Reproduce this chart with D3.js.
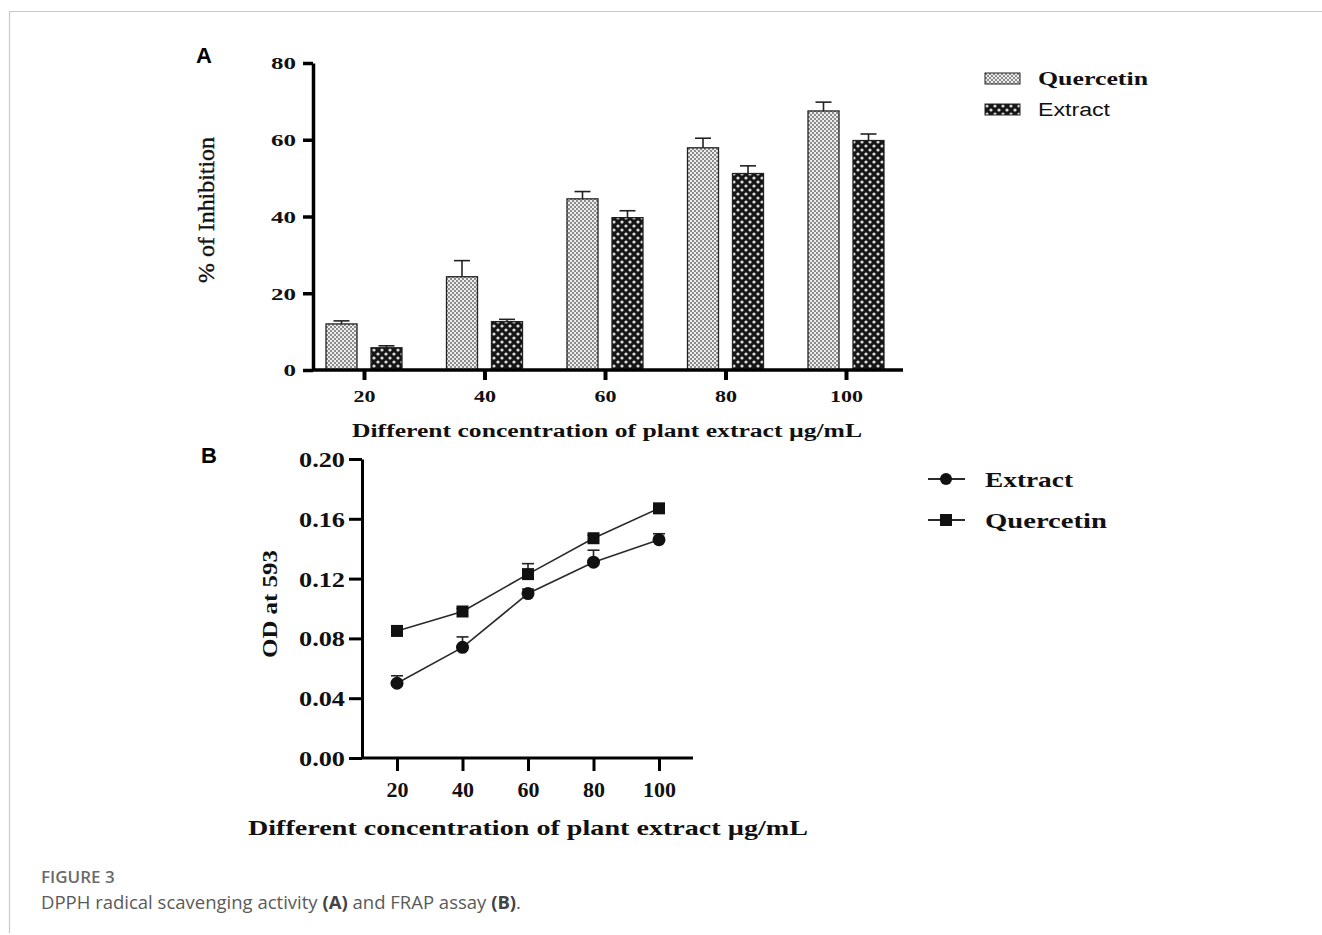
<!DOCTYPE html>
<html>
<head>
<meta charset="utf-8">
<script src="https://cdn.jsdelivr.net/npm/d3@7"></script>
<style>
  body { margin: 0; background: #fff; }
  svg { display: block; }
</style>
</head>
<body>
<script>
// values
const concentrations = [20, 40, 60, 80, 100];
const groups = ["Quercetin", "Extract"];

const dpphQuercetin = [12.0, 24.3, 44.6, 57.9, 67.5];
const dpphQuercetinErr = [0.8, 4.2, 1.9, 2.5, 2.3];
const dpphExtract = [5.8, 12.6, 39.7, 51.2, 59.8];
const dpphExtractErr = [0.5, 0.6, 1.8, 2.0, 1.7];

const frapExtract = [0.050, 0.074, 0.110, 0.131, 0.146];
const frapExtractErr = [0.005, 0.007, 0.003, 0.008, 0.004];
const frapQuercetin = [0.085, 0.098, 0.123, 0.147, 0.167];
const frapQuercetinErr = [0.002, 0.002, 0.007, 0.002, 0.002];

const yTicksA = [0, 20, 40, 60, 80];
const yTicksB = [0, 0.04, 0.08, 0.12, 0.16, 0.20];

const serif = "'Liberation Serif', 'Times New Roman', serif";
const sans = "'Liberation Sans', Arial, sans-serif";

const svg = d3.select("body").append("svg")
  .attr("width", 1322)
  .attr("height", 935);

// stretch text to a given width, the original is a scaled bitmap
function stretch(sel, w) {
  sel.attr("textLength", w).attr("lengthAdjust", "spacingAndGlyphs");
}

// patterns
const defs = svg.append("defs");
const pq = defs.append("pattern").attr("id", "pQ")
  .attr("patternUnits", "userSpaceOnUse").attr("width", 4).attr("height", 4);
pq.append("rect").attr("width", 4).attr("height", 4).attr("fill", "#eeeeee");
pq.append("rect").attr("width", 2).attr("height", 2).attr("fill", "#8c8c8c");
pq.append("rect").attr("x", 2).attr("y", 2).attr("width", 2).attr("height", 2).attr("fill", "#8c8c8c");

const pe = defs.append("pattern").attr("id", "pE")
  .attr("patternUnits", "userSpaceOnUse").attr("width", 8).attr("height", 8);
pe.append("rect").attr("width", 8).attr("height", 8).attr("fill", "#161616");
pe.append("circle").attr("cx", 2).attr("cy", 2).attr("r", 1.6).attr("fill", "#dcdcdc");
pe.append("circle").attr("cx", 6).attr("cy", 6).attr("r", 1.6).attr("fill", "#dcdcdc");

const fills = { Quercetin: "url(#pQ)", Extract: "url(#pE)" };

// frame
svg.append("line").attr("x1", 9).attr("x2", 1322).attr("y1", 11.5).attr("y2", 11.5)
  .attr("stroke", "#c8c8c8").attr("stroke-width", 1.2);
svg.append("line").attr("x1", 9.5).attr("x2", 9.5).attr("y1", 11).attr("y2", 933)
  .attr("stroke", "#c8c8c8").attr("stroke-width", 1.2);

// ---------- Panel A ----------
const axA = { left: 313, right: 903, top: 63, bottom: 370 };

const xA = d3.scalePoint().domain(concentrations).range([364, 846]);
const xSub = d3.scaleBand().domain(groups).range([-38, 38]).paddingInner(0.311);
const yA = d3.scaleLinear().domain([0, 80]).range([axA.bottom, axA.top]);

const barData = [];
concentrations.forEach((c, i) => {
  barData.push({ c, g: "Quercetin", v: dpphQuercetin[i], e: dpphQuercetinErr[i] });
  barData.push({ c, g: "Extract", v: dpphExtract[i], e: dpphExtractErr[i] });
});

const gA = svg.append("g");

// error bars behind bars
const ebA = gA.selectAll(".ebA").data(barData).enter().append("g")
  .attr("stroke", "#222").attr("stroke-width", 1.6);
ebA.append("line")
  .attr("x1", d => xA(d.c) + xSub(d.g) + xSub.bandwidth() / 2)
  .attr("x2", d => xA(d.c) + xSub(d.g) + xSub.bandwidth() / 2)
  .attr("y1", d => yA(d.v))
  .attr("y2", d => yA(d.v + d.e));
ebA.append("line")
  .attr("x1", d => xA(d.c) + xSub(d.g) + xSub.bandwidth() / 2 - 8)
  .attr("x2", d => xA(d.c) + xSub(d.g) + xSub.bandwidth() / 2 + 8)
  .attr("y1", d => yA(d.v + d.e))
  .attr("y2", d => yA(d.v + d.e));

gA.selectAll(".bar").data(barData).enter().append("rect")
  .attr("x", d => xA(d.c) + xSub(d.g))
  .attr("width", xSub.bandwidth())
  .attr("y", d => yA(d.v))
  .attr("height", d => yA(0) - yA(d.v))
  .attr("fill", d => fills[d.g])
  .attr("stroke", "#222")
  .attr("stroke-width", 1.3);

// y axis
const yAxisA = gA.append("g")
  .attr("transform", "translate(" + axA.left + ",0)")
  .call(d3.axisLeft(yA).tickValues(yTicksA).tickSize(10).tickSizeOuter(0).tickPadding(7));
yAxisA.select(".domain").attr("stroke", "#000").attr("stroke-width", 3.5);
yAxisA.selectAll(".tick line").attr("stroke", "#000").attr("stroke-width", 3.5);
yAxisA.selectAll(".tick text")
  .attr("font-family", serif).attr("font-weight", "bold").attr("font-size", 17)
  .attr("fill", "#111").attr("dy", "0.34em")
  .each(function (d) { stretch(d3.select(this), String(d).length * 12.5); });

// x axis
gA.append("line")
  .attr("x1", axA.left).attr("x2", axA.right)
  .attr("y1", axA.bottom).attr("y2", axA.bottom)
  .attr("stroke", "#000").attr("stroke-width", 3.5);
const xAxisA = gA.append("g")
  .attr("transform", "translate(0," + axA.bottom + ")")
  .call(d3.axisBottom(xA).tickSize(10).tickSizeOuter(0).tickPadding(10));
xAxisA.select(".domain").remove();
xAxisA.selectAll(".tick line").attr("stroke", "#000").attr("stroke-width", 4);
xAxisA.selectAll(".tick text")
  .attr("font-family", serif).attr("font-weight", "bold").attr("font-size", 17)
  .attr("fill", "#111")
  .each(function (d) { stretch(d3.select(this), String(d).length * 11); });

gA.append("text")
  .attr("transform", "translate(214,210) rotate(-90)")
  .attr("text-anchor", "middle")
  .attr("font-family", serif).attr("font-size", 24).attr("fill", "#111")
  .attr("stroke", "#111").attr("stroke-width", 0.4)
  .text("% of Inhibition")
  .call(stretch, 146);

gA.append("text")
  .attr("x", 607).attr("y", 437)
  .attr("text-anchor", "middle")
  .attr("font-family", serif).attr("font-weight", "bold").attr("font-size", 18)
  .attr("fill", "#111")
  .text("Different concentration of plant extract µg/mL")
  .call(stretch, 510);

svg.append("text").attr("x", 196).attr("y", 63)
  .attr("font-family", sans).attr("font-weight", "bold").attr("font-size", 22)
  .text("A");

// legend A
const legA = svg.append("g").attr("transform", "translate(985,73)");
const legItemsA = legA.selectAll("g").data(groups).enter().append("g")
  .attr("transform", (d, i) => "translate(0," + i * 31 + ")");
legItemsA.append("rect")
  .attr("width", 35).attr("height", 11)
  .attr("fill", d => fills[d]).attr("stroke", "#222").attr("stroke-width", 1);
legItemsA.append("text")
  .attr("x", 53).attr("y", 12)
  .attr("font-family", d => d === "Quercetin" ? serif : sans)
  .attr("font-weight", d => d === "Quercetin" ? "bold" : "normal")
  .attr("font-size", 18)
  .attr("fill", "#111")
  .text(d => d)
  .each(function (d) { stretch(d3.select(this), d === "Quercetin" ? 110 : 72); });

// ---------- Panel B ----------
const axB = { left: 362, right: 693, top: 459, bottom: 758 };
const xB = d3.scalePoint().domain(concentrations).range([397, 659]);
const yB = d3.scaleLinear().domain([0, 0.2]).range([axB.bottom, axB.top]);

const gB = svg.append("g");

const yAxisB = gB.append("g")
  .attr("transform", "translate(" + axB.left + ",0)")
  .call(d3.axisLeft(yB).tickValues(yTicksB).tickSize(13).tickSizeOuter(0).tickPadding(4)
    .tickFormat(d3.format(".2f")));
yAxisB.select(".domain").attr("stroke", "#000").attr("stroke-width", 3);
yAxisB.selectAll(".tick line").attr("stroke", "#000").attr("stroke-width", 3);
yAxisB.selectAll(".tick text")
  .attr("font-family", serif).attr("font-weight", "bold").attr("font-size", 22)
  .attr("fill", "#111").attr("dy", "0.34em")
  .call(stretch, 46);

gB.append("line")
  .attr("x1", axB.left).attr("x2", axB.right)
  .attr("y1", axB.bottom).attr("y2", axB.bottom)
  .attr("stroke", "#000").attr("stroke-width", 3);
const xAxisB = gB.append("g")
  .attr("transform", "translate(0," + axB.bottom + ")")
  .call(d3.axisBottom(xB).tickSize(13).tickSizeOuter(0).tickPadding(10));
xAxisB.select(".domain").remove();
xAxisB.selectAll(".tick line").attr("stroke", "#000").attr("stroke-width", 3);
xAxisB.selectAll(".tick text")
  .attr("font-family", serif).attr("font-weight", "bold").attr("font-size", 22)
  .attr("fill", "#111");

gB.append("text")
  .attr("transform", "translate(277,604) rotate(-90)")
  .attr("text-anchor", "middle")
  .attr("font-family", serif).attr("font-weight", "bold").attr("font-size", 21)
  .attr("fill", "#111")
  .text("OD at 593")
  .call(stretch, 108);

gB.append("text")
  .attr("x", 528).attr("y", 835)
  .attr("text-anchor", "middle")
  .attr("font-family", serif).attr("font-weight", "bold").attr("font-size", 21)
  .attr("fill", "#111")
  .text("Different concentration of plant extract µg/mL")
  .call(stretch, 560);

svg.append("text").attr("x", 201).attr("y", 463)
  .attr("font-family", sans).attr("font-weight", "bold").attr("font-size", 22)
  .text("B");

const seriesB = [
  { name: "Extract", values: frapExtract, errs: frapExtractErr, shape: "circle" },
  { name: "Quercetin", values: frapQuercetin, errs: frapQuercetinErr, shape: "square" }
];

const lineB = d3.line().x(d => xB(d.c)).y(d => yB(d.v));

seriesB.forEach(s => {
  const pts = concentrations.map((c, i) => ({ c, v: s.values[i], e: s.errs[i] }));
  gB.append("path").datum(pts)
    .attr("fill", "none").attr("stroke", "#2a2a2a").attr("stroke-width", 1.6)
    .attr("d", lineB);
  const eb = gB.selectAll(".eb-" + s.name).data(pts).enter().append("g")
    .attr("stroke", "#222").attr("stroke-width", 1.6);
  eb.append("line")
    .attr("x1", d => xB(d.c)).attr("x2", d => xB(d.c))
    .attr("y1", d => yB(d.v)).attr("y2", d => yB(d.v + d.e));
  eb.append("line")
    .attr("x1", d => xB(d.c) - 6).attr("x2", d => xB(d.c) + 6)
    .attr("y1", d => yB(d.v + d.e)).attr("y2", d => yB(d.v + d.e));
  if (s.shape === "circle") {
    gB.selectAll(".pt-" + s.name).data(pts).enter().append("circle")
      .attr("cx", d => xB(d.c)).attr("cy", d => yB(d.v)).attr("r", 6.5)
      .attr("fill", "#111");
  } else {
    gB.selectAll(".pt-" + s.name).data(pts).enter().append("rect")
      .attr("x", d => xB(d.c) - 6).attr("y", d => yB(d.v) - 6)
      .attr("width", 12).attr("height", 12)
      .attr("fill", "#111");
  }
});

// legend B
const legB = svg.append("g").attr("transform", "translate(928,479)");
const legItemsB = legB.selectAll("g").data(seriesB).enter().append("g")
  .attr("transform", (d, i) => "translate(0," + i * 41 + ")");
legItemsB.append("line").attr("x1", 0).attr("x2", 37)
  .attr("stroke", "#2a2a2a").attr("stroke-width", 1.8);
legItemsB.filter(d => d.shape === "circle").append("circle")
  .attr("cx", 18).attr("r", 6).attr("fill", "#111");
legItemsB.filter(d => d.shape === "square").append("rect")
  .attr("x", 12).attr("y", -6).attr("width", 12).attr("height", 12).attr("fill", "#111");
legItemsB.append("text")
  .attr("x", 57).attr("y", 8)
  .attr("font-family", serif).attr("font-weight", "bold").attr("font-size", 21)
  .attr("fill", "#111")
  .text(d => d.name)
  .each(function (d) { stretch(d3.select(this), d.name === "Extract" ? 88 : 122); });

// ---------- caption ----------
svg.append("text").attr("x", 41).attr("y", 883)
  .attr("font-family", "'Open Sans', sans-serif").attr("font-weight", 600)
  .attr("font-size", 17).attr("fill", "#6a6a6a")
  .text("FIGURE 3");

const cap = svg.append("text").attr("x", 41).attr("y", 909)
  .attr("font-family", "'Open Sans', sans-serif").attr("font-size", 18.5).attr("fill", "#5a5a5a");
cap.append("tspan").text("DPPH radical scavenging activity ");
cap.append("tspan").attr("font-weight", "bold").attr("fill", "#444").text("(A)");
cap.append("tspan").text(" and FRAP assay ");
cap.append("tspan").attr("font-weight", "bold").attr("fill", "#444").text("(B)");
cap.append("tspan").text(".");
</script>
</body>
</html>
